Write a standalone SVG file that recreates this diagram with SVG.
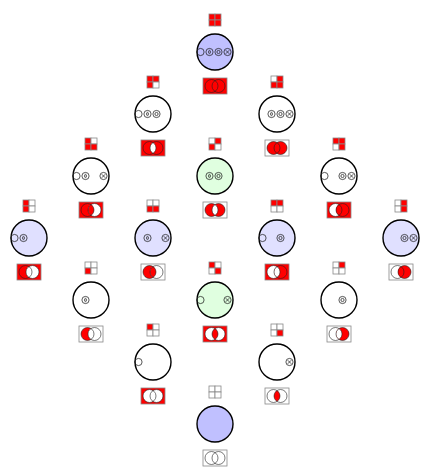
<svg xmlns="http://www.w3.org/2000/svg" xmlns:xlink="http://www.w3.org/1999/xlink" width="430" height="476" viewBox="0 0 430 476">
<style>
.on{fill:#ff0000}
.off{fill:#ffffff}
.cell{stroke:#888;stroke-width:0.8}
.vb{stroke:#888;stroke-width:0.8}
.vc{stroke:none}
.vo{fill:none;stroke:#222;stroke-width:0.6}
.node{stroke:#000;stroke-width:1.4}
.w{fill:#ffffff}
.b1{fill:#c0c0ff}
.b2{fill:#e0e0ff}
.gr{fill:#e0ffe0}
.sm{fill:none;stroke:#111;stroke-width:0.7}
</style>
<defs>
<g id="sTL" class="sm"><circle r="3.6"/></g>
<g id="sBL" class="sm"><circle r="3.6"/><ellipse rx="0.9" ry="1.7"/></g>
<g id="sTR" class="sm"><circle r="3.6"/><circle r="1.6"/></g>
<g id="sBR" class="sm"><circle r="3.6"/><path d="M-1.8,-1.8L1.8,1.8M-1.8,1.8L1.8,-1.8"/></g>
<g id="vo" class="vo"><circle cx="-3.5" r="6.5"/><circle cx="3.5" r="6.5"/></g>
</defs>
<g id="connectors"/>

<g id="n1" transform="translate(215,52)">
<circle class="node b1" r="18"/>
<use href="#sTL" x="-14.5"/><use href="#sBL" x="-5.5"/><use href="#sTR" x="3.5"/><use href="#sBR" x="12.5"/>
<g transform="translate(0,-32)"><rect class="cell on" x="-6" y="-6" width="6" height="6"/><rect class="cell on" x="0" y="-6" width="6" height="6"/><rect class="cell on" x="-6" y="0" width="6" height="6"/><rect class="cell on" x="0" y="0" width="6" height="6"/></g>
<g transform="translate(0,34)"><rect class="vb on" x="-12" y="-8" width="24" height="16"/><circle class="vc on" cx="-3.5" r="6.5"/><circle class="vc on" cx="3.5" r="6.5"/><path class="vc on" d="M0,-5.477A6.5,6.5 0 0 1 0,5.477A6.5,6.5 0 0 1 0,-5.477Z"/><use href="#vo"/></g>
</g>

<g id="n2" transform="translate(153,114)">
<circle class="node w" r="18"/>
<use href="#sTL" x="-14.5"/><use href="#sBL" x="-5.5"/><use href="#sTR" x="3.5"/>
<g transform="translate(0,-32)"><rect class="cell on" x="-6" y="-6" width="6" height="6"/><rect class="cell on" x="0" y="-6" width="6" height="6"/><rect class="cell on" x="-6" y="0" width="6" height="6"/><rect class="cell off" x="0" y="0" width="6" height="6"/></g>
<g transform="translate(0,34)"><rect class="vb on" x="-12" y="-8" width="24" height="16"/><circle class="vc on" cx="-3.5" r="6.5"/><circle class="vc on" cx="3.5" r="6.5"/><path class="vc off" d="M0,-5.477A6.5,6.5 0 0 1 0,5.477A6.5,6.5 0 0 1 0,-5.477Z"/><use href="#vo"/></g>
</g>

<g id="n3" transform="translate(277,114)">
<circle class="node w" r="18"/>
<use href="#sBL" x="-5.5"/><use href="#sTR" x="3.5"/><use href="#sBR" x="12.5"/>
<g transform="translate(0,-32)"><rect class="cell off" x="-6" y="-6" width="6" height="6"/><rect class="cell on" x="0" y="-6" width="6" height="6"/><rect class="cell on" x="-6" y="0" width="6" height="6"/><rect class="cell on" x="0" y="0" width="6" height="6"/></g>
<g transform="translate(0,34)"><rect class="vb off" x="-12" y="-8" width="24" height="16"/><circle class="vc on" cx="-3.5" r="6.5"/><circle class="vc on" cx="3.5" r="6.5"/><path class="vc on" d="M0,-5.477A6.5,6.5 0 0 1 0,5.477A6.5,6.5 0 0 1 0,-5.477Z"/><use href="#vo"/></g>
</g>

<g id="n4" transform="translate(91,176)">
<circle class="node w" r="18"/>
<use href="#sTL" x="-14.5"/><use href="#sBL" x="-5.5"/><use href="#sBR" x="12.5"/>
<g transform="translate(0,-32)"><rect class="cell on" x="-6" y="-6" width="6" height="6"/><rect class="cell off" x="0" y="-6" width="6" height="6"/><rect class="cell on" x="-6" y="0" width="6" height="6"/><rect class="cell on" x="0" y="0" width="6" height="6"/></g>
<g transform="translate(0,34)"><rect class="vb on" x="-12" y="-8" width="24" height="16"/><circle class="vc on" cx="-3.5" r="6.5"/><circle class="vc off" cx="3.5" r="6.5"/><path class="vc on" d="M0,-5.477A6.5,6.5 0 0 1 0,5.477A6.5,6.5 0 0 1 0,-5.477Z"/><use href="#vo"/></g>
</g>

<g id="n5" transform="translate(215,176)">
<circle class="node gr" r="18"/>
<use href="#sBL" x="-5.5"/><use href="#sTR" x="3.5"/>
<g transform="translate(0,-32)"><rect class="cell off" x="-6" y="-6" width="6" height="6"/><rect class="cell on" x="0" y="-6" width="6" height="6"/><rect class="cell on" x="-6" y="0" width="6" height="6"/><rect class="cell off" x="0" y="0" width="6" height="6"/></g>
<g transform="translate(0,34)"><rect class="vb off" x="-12" y="-8" width="24" height="16"/><circle class="vc on" cx="-3.5" r="6.5"/><circle class="vc on" cx="3.5" r="6.5"/><path class="vc off" d="M0,-5.477A6.5,6.5 0 0 1 0,5.477A6.5,6.5 0 0 1 0,-5.477Z"/><use href="#vo"/></g>
</g>

<g id="n6" transform="translate(339,176)">
<circle class="node w" r="18"/>
<use href="#sTL" x="-14.5"/><use href="#sTR" x="3.5"/><use href="#sBR" x="12.5"/>
<g transform="translate(0,-32)"><rect class="cell on" x="-6" y="-6" width="6" height="6"/><rect class="cell on" x="0" y="-6" width="6" height="6"/><rect class="cell off" x="-6" y="0" width="6" height="6"/><rect class="cell on" x="0" y="0" width="6" height="6"/></g>
<g transform="translate(0,34)"><rect class="vb on" x="-12" y="-8" width="24" height="16"/><circle class="vc off" cx="-3.5" r="6.5"/><circle class="vc on" cx="3.5" r="6.5"/><path class="vc on" d="M0,-5.477A6.5,6.5 0 0 1 0,5.477A6.5,6.5 0 0 1 0,-5.477Z"/><use href="#vo"/></g>
</g>

<g id="n7" transform="translate(29,238)">
<circle class="node b2" r="18"/>
<use href="#sTL" x="-14.5"/><use href="#sBL" x="-5.5"/>
<g transform="translate(0,-32)"><rect class="cell on" x="-6" y="-6" width="6" height="6"/><rect class="cell off" x="0" y="-6" width="6" height="6"/><rect class="cell on" x="-6" y="0" width="6" height="6"/><rect class="cell off" x="0" y="0" width="6" height="6"/></g>
<g transform="translate(0,34)"><rect class="vb on" x="-12" y="-8" width="24" height="16"/><circle class="vc on" cx="-3.5" r="6.5"/><circle class="vc off" cx="3.5" r="6.5"/><path class="vc off" d="M0,-5.477A6.5,6.5 0 0 1 0,5.477A6.5,6.5 0 0 1 0,-5.477Z"/><use href="#vo"/></g>
</g>

<g id="n8" transform="translate(153,238)">
<circle class="node b2" r="18"/>
<use href="#sBL" x="-5.5"/><use href="#sBR" x="12.5"/>
<g transform="translate(0,-32)"><rect class="cell off" x="-6" y="-6" width="6" height="6"/><rect class="cell off" x="0" y="-6" width="6" height="6"/><rect class="cell on" x="-6" y="0" width="6" height="6"/><rect class="cell on" x="0" y="0" width="6" height="6"/></g>
<g transform="translate(0,34)"><rect class="vb off" x="-12" y="-8" width="24" height="16"/><circle class="vc on" cx="-3.5" r="6.5"/><circle class="vc off" cx="3.5" r="6.5"/><path class="vc on" d="M0,-5.477A6.5,6.5 0 0 1 0,5.477A6.5,6.5 0 0 1 0,-5.477Z"/><use href="#vo"/></g>
</g>

<g id="n9" transform="translate(277,238)">
<circle class="node b2" r="18"/>
<use href="#sTL" x="-14.5"/><use href="#sTR" x="3.5"/>
<g transform="translate(0,-32)"><rect class="cell on" x="-6" y="-6" width="6" height="6"/><rect class="cell on" x="0" y="-6" width="6" height="6"/><rect class="cell off" x="-6" y="0" width="6" height="6"/><rect class="cell off" x="0" y="0" width="6" height="6"/></g>
<g transform="translate(0,34)"><rect class="vb on" x="-12" y="-8" width="24" height="16"/><circle class="vc off" cx="-3.5" r="6.5"/><circle class="vc on" cx="3.5" r="6.5"/><path class="vc off" d="M0,-5.477A6.5,6.5 0 0 1 0,5.477A6.5,6.5 0 0 1 0,-5.477Z"/><use href="#vo"/></g>
</g>

<g id="n10" transform="translate(401,238)">
<circle class="node b2" r="18"/>
<use href="#sTR" x="3.5"/><use href="#sBR" x="12.5"/>
<g transform="translate(0,-32)"><rect class="cell off" x="-6" y="-6" width="6" height="6"/><rect class="cell on" x="0" y="-6" width="6" height="6"/><rect class="cell off" x="-6" y="0" width="6" height="6"/><rect class="cell on" x="0" y="0" width="6" height="6"/></g>
<g transform="translate(0,34)"><rect class="vb off" x="-12" y="-8" width="24" height="16"/><circle class="vc off" cx="-3.5" r="6.5"/><circle class="vc on" cx="3.5" r="6.5"/><path class="vc on" d="M0,-5.477A6.5,6.5 0 0 1 0,5.477A6.5,6.5 0 0 1 0,-5.477Z"/><use href="#vo"/></g>
</g>

<g id="n11" transform="translate(91,300)">
<circle class="node w" r="18"/>
<use href="#sBL" x="-5.5"/>
<g transform="translate(0,-32)"><rect class="cell off" x="-6" y="-6" width="6" height="6"/><rect class="cell off" x="0" y="-6" width="6" height="6"/><rect class="cell on" x="-6" y="0" width="6" height="6"/><rect class="cell off" x="0" y="0" width="6" height="6"/></g>
<g transform="translate(0,34)"><rect class="vb off" x="-12" y="-8" width="24" height="16"/><circle class="vc on" cx="-3.5" r="6.5"/><circle class="vc off" cx="3.5" r="6.5"/><path class="vc off" d="M0,-5.477A6.5,6.5 0 0 1 0,5.477A6.5,6.5 0 0 1 0,-5.477Z"/><use href="#vo"/></g>
</g>

<g id="n12" transform="translate(215,300)">
<circle class="node gr" r="18"/>
<use href="#sTL" x="-14.5"/><use href="#sBR" x="12.5"/>
<g transform="translate(0,-32)"><rect class="cell on" x="-6" y="-6" width="6" height="6"/><rect class="cell off" x="0" y="-6" width="6" height="6"/><rect class="cell off" x="-6" y="0" width="6" height="6"/><rect class="cell on" x="0" y="0" width="6" height="6"/></g>
<g transform="translate(0,34)"><rect class="vb on" x="-12" y="-8" width="24" height="16"/><circle class="vc off" cx="-3.5" r="6.5"/><circle class="vc off" cx="3.5" r="6.5"/><path class="vc on" d="M0,-5.477A6.5,6.5 0 0 1 0,5.477A6.5,6.5 0 0 1 0,-5.477Z"/><use href="#vo"/></g>
</g>

<g id="n13" transform="translate(339,300)">
<circle class="node w" r="18"/>
<use href="#sTR" x="3.5"/>
<g transform="translate(0,-32)"><rect class="cell off" x="-6" y="-6" width="6" height="6"/><rect class="cell on" x="0" y="-6" width="6" height="6"/><rect class="cell off" x="-6" y="0" width="6" height="6"/><rect class="cell off" x="0" y="0" width="6" height="6"/></g>
<g transform="translate(0,34)"><rect class="vb off" x="-12" y="-8" width="24" height="16"/><circle class="vc off" cx="-3.5" r="6.5"/><circle class="vc on" cx="3.5" r="6.5"/><path class="vc off" d="M0,-5.477A6.5,6.5 0 0 1 0,5.477A6.5,6.5 0 0 1 0,-5.477Z"/><use href="#vo"/></g>
</g>

<g id="n14" transform="translate(153,362)">
<circle class="node w" r="18"/>
<use href="#sTL" x="-14.5"/>
<g transform="translate(0,-32)"><rect class="cell on" x="-6" y="-6" width="6" height="6"/><rect class="cell off" x="0" y="-6" width="6" height="6"/><rect class="cell off" x="-6" y="0" width="6" height="6"/><rect class="cell off" x="0" y="0" width="6" height="6"/></g>
<g transform="translate(0,34)"><rect class="vb on" x="-12" y="-8" width="24" height="16"/><circle class="vc off" cx="-3.5" r="6.5"/><circle class="vc off" cx="3.5" r="6.5"/><path class="vc off" d="M0,-5.477A6.5,6.5 0 0 1 0,5.477A6.5,6.5 0 0 1 0,-5.477Z"/><use href="#vo"/></g>
</g>

<g id="n15" transform="translate(277,362)">
<circle class="node w" r="18"/>
<use href="#sBR" x="12.5"/>
<g transform="translate(0,-32)"><rect class="cell off" x="-6" y="-6" width="6" height="6"/><rect class="cell off" x="0" y="-6" width="6" height="6"/><rect class="cell off" x="-6" y="0" width="6" height="6"/><rect class="cell on" x="0" y="0" width="6" height="6"/></g>
<g transform="translate(0,34)"><rect class="vb off" x="-12" y="-8" width="24" height="16"/><circle class="vc off" cx="-3.5" r="6.5"/><circle class="vc off" cx="3.5" r="6.5"/><path class="vc on" d="M0,-5.477A6.5,6.5 0 0 1 0,5.477A6.5,6.5 0 0 1 0,-5.477Z"/><use href="#vo"/></g>
</g>

<g id="n16" transform="translate(215,424)">
<circle class="node b1" r="18"/>
<g transform="translate(0,-32)"><rect class="cell off" x="-6" y="-6" width="6" height="6"/><rect class="cell off" x="0" y="-6" width="6" height="6"/><rect class="cell off" x="-6" y="0" width="6" height="6"/><rect class="cell off" x="0" y="0" width="6" height="6"/></g>
<g transform="translate(0,34)"><rect class="vb off" x="-12" y="-8" width="24" height="16"/><circle class="vc off" cx="-3.5" r="6.5"/><circle class="vc off" cx="3.5" r="6.5"/><path class="vc off" d="M0,-5.477A6.5,6.5 0 0 1 0,5.477A6.5,6.5 0 0 1 0,-5.477Z"/><use href="#vo"/></g>
</g>
</svg>
